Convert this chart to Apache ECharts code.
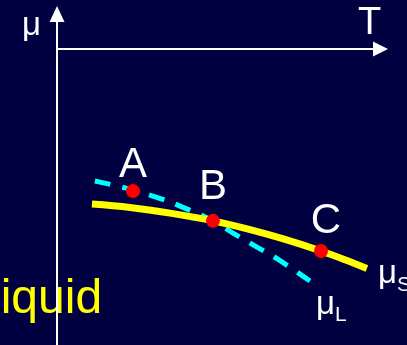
<!DOCTYPE html>
<html>
<head>
<meta charset="utf-8">
<script src="https://cdn.jsdelivr.net/npm/echarts@6/dist/echarts.min.js"></script>
<style>
  html, body { margin: 0; padding: 0; background: #010040; }
  #chart { width: 407px; height: 345px; }
</style>
</head>
<body>
<div id="chart"></div>
<script>
// Chemical potential vs temperature (schematic units)
const solidT  = [10.8, 22.6, 34.9, 48.2, 59.7, 70.5, 81.6, 89.0, 95.8];
const solidMu = [-44.3, -45.3, -46.9, -49.1, -51.6, -54.4, -57.7, -60.2, -62.7];

const liquidT  = [11.7, 21.0, 30.6, 38.6, 48.2, 54.4, 61.8, 68.0, 78.2];
const liquidMu = [-37.7, -39.7, -42.3, -45.1, -49.1, -52.6, -56.6, -59.9, -66.3];

const pointNames = ['A', 'B', 'C'];
const pointT  = [23.5, 48.2, 81.6];
const pointMu = [-40.6, -49.1, -57.7];

const FONT = '"Liberation Sans", Arial, sans-serif';
const WHITE = '#ffffff';

const pairs = (xs, ys) => xs.map((x, i) => [x, ys[i]]);

const labelOffsets = [[0, 7], [0, 0], [5, 3]];

// μ with a lowered subscript letter
const muRich = {
  m: { fontSize: 33, fontFamily: FONT, color: WHITE, verticalAlign: 'top', padding: [0, 0, 5, 0] },
  s: { fontSize: 21, fontFamily: FONT, color: WHITE, verticalAlign: 'bottom' }
};

const chart = echarts.init(document.getElementById('chart'), null, { renderer: 'canvas' });

chart.setOption({
  animation: false,
  backgroundColor: '#010040',
  grid: { left: 57, right: 26.5, top: 14, bottom: -1.5, containLabel: false, outerBoundsMode: 'none' },
  xAxis: {
    type: 'value', min: 0, max: 100,
    axisLine: {
      show: true, onZero: true,
      symbol: ['none', 'triangle'], symbolSize: [15, 15],
      lineStyle: { color: WHITE, width: 2 }
    },
    axisTick: { show: false }, axisLabel: { show: false }, splitLine: { show: false }
  },
  yAxis: {
    type: 'value', min: -85, max: 10,
    axisLine: {
      show: true, onZero: true,
      symbol: ['none', 'triangle'], symbolSize: [15, 16],
      lineStyle: { color: WHITE, width: 2 }
    },
    axisTick: { show: false }, axisLabel: { show: false }, splitLine: { show: false }
  },
  graphic: [
    { type: 'text', left: 22, top: 9, z: 10,
      style: { text: 'μ', fill: WHITE, font: '33px ' + FONT } },
    { type: 'text', left: 358, top: 5, z: 10,
      style: { text: 'T', fill: WHITE, font: '38px ' + FONT } },
    { type: 'text', left: -26, top: 276, z: -10,
      style: { text: 'Liquid', fill: '#ffff00', font: '48px ' + FONT } }
  ],
  series: [
    {
      name: 'μL', type: 'line', z: 2,
      data: pairs(liquidT, liquidMu),
      smooth: 0.4, showSymbol: false, silent: true,
      lineStyle: { color: '#00ffff', width: 5, type: [16, 12] },
      endLabel: {
        show: true, distance: 0, offset: [6, 26],
        formatter: '{m|μ}{s|L}', rich: muRich
      }
    },
    {
      name: 'μS', type: 'line', z: 3,
      data: pairs(solidT, solidMu),
      smooth: 0.4, showSymbol: false, silent: true,
      lineStyle: { color: '#ffff00', width: 7, cap: 'butt' },
      endLabel: {
        show: true, distance: 0, offset: [11, 8],
        formatter: '{m|μ}{s|S}', rich: muRich
      }
    },
    {
      name: 'points', type: 'scatter', z: 4,
      symbol: 'circle', symbolSize: 14, silent: true,
      itemStyle: { color: '#ff0000', opacity: 1 },
      data: pointNames.map((n, i) => ({
        name: n, value: [pointT[i], pointMu[i]],
        label: { offset: labelOffsets[i] }
      })),
      label: {
        show: true, position: 'top', distance: 5,
        formatter: p => p.name,
        color: WHITE, fontSize: 42, fontFamily: FONT, opacity: 1
      }
    }
  ]
});
</script>
</body>
</html>
